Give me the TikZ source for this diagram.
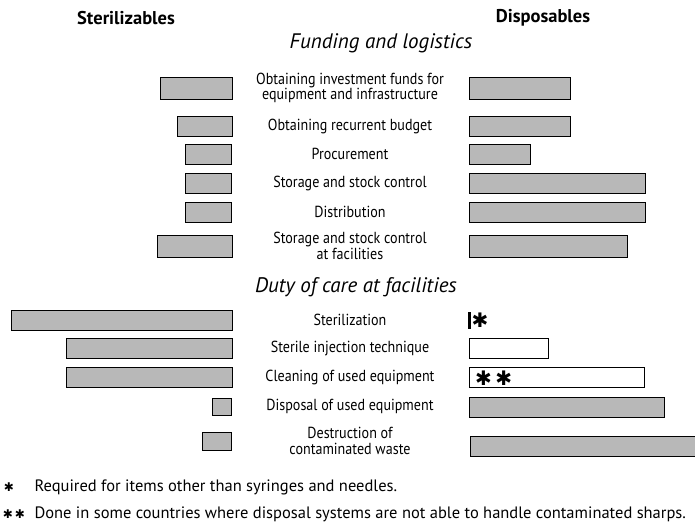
\documentclass[tikz,border=0pt]{standalone}
\usepackage{fontspec}
\setmainfont{PT Sans}
\newfontfamily\narrowfont{PT Sans}[FakeStretch=0.88]
\newfontfamily\starfont{DejaVu Sans}

\begin{document}
\begin{tikzpicture}[x=1pt,y=-1pt,
        lbl/.style={align=center,font=\narrowfont\fontsize{16}{15.5}\selectfont},
        sect/.style={font=\fontsize{21}{24}\selectfont\itshape},
        colhead/.style={font=\fontsize{18.5}{22}\selectfont\bfseries},
        gbar/.style={draw,line width=1pt,fill=black!28,minimum height=20pt,inner sep=0pt},
        wbar/.style={gbar,fill=white},
        lbar/.style={gbar,anchor=east},
        rbar/.style={gbar,anchor=west},
        stars/.style={font=\starfont\fontsize{20}{20}\selectfont,inner sep=0pt},
        note/.style={anchor=west,font=\fontsize{16.5}{18}\selectfont}]
        \useasboundingbox (0,0) rectangle (695,523);

        % column headings
        \node[colhead] (steril) at (126,18) {Sterilizables};
        \node[colhead] (dispos) at (543,18) {Disposables};

        % funding and logistics
        \node[sect] (funding) at (381,43) {Funding and logistics};

        \node[lbl] (invest) at (350,88) {Obtaining investment funds for\\equipment and infrastructure};
        \node[lbl] (budget) at (350,126) {Obtaining recurrent budget};
        \node[lbl] (procure) at (350,154) {Procurement};
        \node[lbl] (stock) at (350,183) {Storage and stock control};
        \node[lbl] (distrib) at (350,212) {Distribution};
        \node[lbl] (stockfac) at (350,246) {Storage and stock control\\at facilities};

        \node[lbar, minimum width=72pt, minimum height=22pt] (s1) at (233,88) {};
        \node[lbar, minimum width=55pt] (s2) at (233,126) {};
        \node[lbar, minimum width=46pt] (s3) at (232,154) {};
        \node[lbar, minimum width=46pt] (s4) at (232,183) {};
        \node[lbar, minimum width=46pt] (s5) at (232,212) {};
        \node[lbar, minimum width=75pt, minimum height=22pt] (s6) at (233,246) {};

        \node[rbar, minimum width=101pt, minimum height=22pt] (d1) at (469,88) {};
        \node[rbar, minimum width=101pt] (d2) at (469,126) {};
        \node[rbar, minimum width=61pt] (d3) at (469,154) {};
        \node[rbar, minimum width=176pt] (d4) at (469,183) {};
        \node[rbar, minimum width=176pt] (d5) at (469,212) {};
        \node[rbar, minimum width=158pt, minimum height=22pt] (d6) at (469,246) {};

        % duty of care
        \node[sect] (duty) at (356,287) {Duty of care at facilities};

        \node[lbl] (steriliz) at (350,320) {Sterilization};
        \node[lbl] (inject) at (350,348) {Sterile injection technique};
        \node[lbl] (clean) at (350,377) {Cleaning of used equipment};
        \node[lbl] (dispose) at (350,406) {Disposal of used equipment};
        \node[lbl] (destroy) at (350,441) {Destruction of\\contaminated waste};

        \node[lbar, minimum width=221pt] (s7) at (233,320) {};
        \node[lbar, minimum width=166pt] (s8) at (233,348) {};
        \node[lbar, minimum width=166pt] (s9) at (233,377) {};
        \node[lbar, minimum width=19pt, minimum height=17pt] (s10) at (232,407) {};
        \node[lbar, minimum width=29pt, minimum height=18pt] (s11) at (232,441) {};

        \node[fill=black, anchor=west, minimum width=3pt, minimum height=17pt, inner sep=0pt] (d7) at (468,320) {};
        \node[stars, anchor=west] (d7star) at (d7.east) {✱};
        \node[rbar, wbar, minimum width=79pt] (d8) at (469,348) {};
        \node[rbar, wbar, minimum width=175pt] (d9) at (469,377) {};
        \node[stars, anchor=west] (d9star) at (475,378) {✱\,✱};
        \node[rbar, minimum width=195pt] (d10) at (469,407) {};
        \node[rbar, minimum width=232pt] (d11) at (470,446) {};

        % footnotes
        \node[stars, font=\starfont\fontsize{12}{12}\selectfont] (fn1star) at (9,487) {✱};
        \node[note] (fn1) at (31,487) {Required for items other than syringes and needles.};
        \node[stars, font=\starfont\fontsize{12}{12}\selectfont] (fn2star) at (14,514) {✱\,✱};
        \node[note] (fn2) at (31,514) {Done in some countries where disposal systems are not able to handle contaminated sharps.};

    \end{tikzpicture}
\end{document}
